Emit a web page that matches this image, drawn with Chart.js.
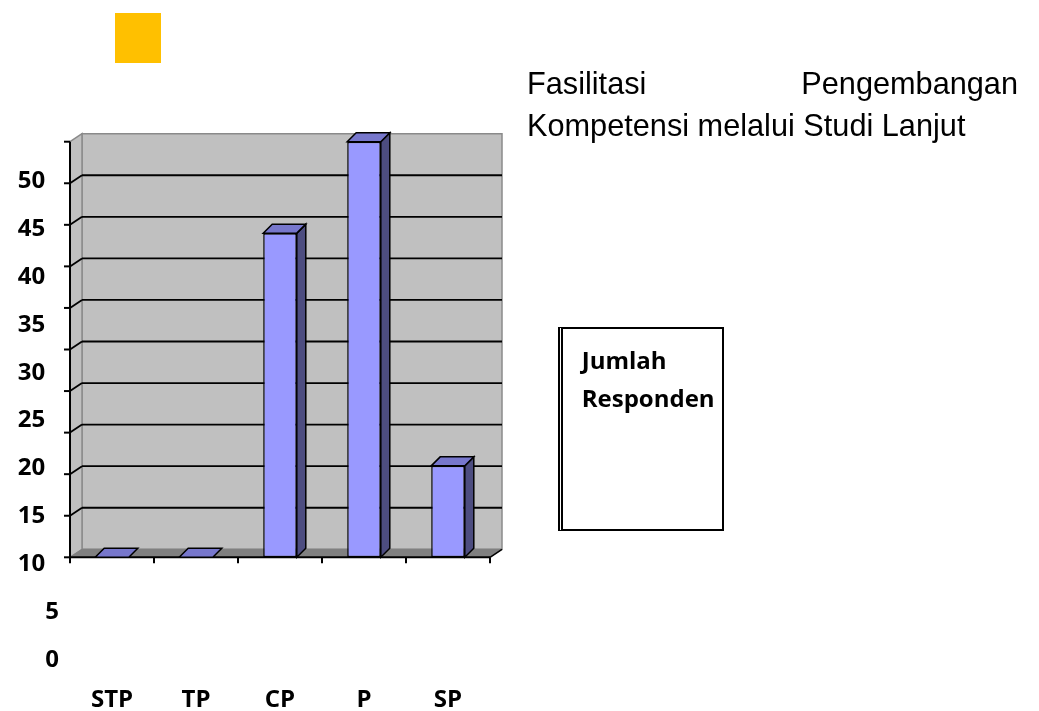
<!DOCTYPE html>
<html>
<head>
<meta charset="utf-8">
<script src="https://cdn.jsdelivr.net/npm/chart.js@4.4.0/dist/chart.umd.min.js"></script>
<style>
  html, body { margin: 0; padding: 0; background: #ffffff; }
  #wrap { position: relative; width: 1039px; height: 711px; overflow: hidden; }
  #c { position: absolute; left: 0; top: 0; }
  #title {
    position: absolute; left: 527px; top: 63.3px; width: 491px;
    font-family: 'Liberation Sans', Arial, sans-serif; font-size: 30.7px; line-height: 42px;
    text-align: justify; text-align-last: left; color: #000;
  }
  #legend {
    position: absolute; left: 558px; top: 327px; width: 166px; height: 204px;
    box-sizing: border-box; border: 2px solid #000; border-left: 5px double #000;
    padding: 12px 0 0 18.7px;
    font-family: 'Open Sans', sans-serif; font-weight: bold; font-size: 24px; line-height: 37.5px; color: #000;
  }
  #key { position: absolute; left: 115px; top: 13px; width: 46px; height: 50px; background: #FFC000; }
</style>
</head>
<body>
<div id="wrap">
  <canvas id="c" width="1039" height="711"></canvas>
  <div id="key"></div>
  <div id="title">Fasilitasi Pengembangan Kompetensi melalui Studi Lanjut</div>
  <div id="legend">Jumlah Responden</div>
</div>
<script>
// ---- data ----
const categories = ['STP', 'TP', 'CP', 'P', 'SP'];
const seriesLabel = 'Jumlah Responden';
const values = [0, 0, 39, 50, 11];
const yTickValues = [0, 5, 10, 15, 20, 25, 30, 35, 40, 45, 50];
const yAxisMax = 50;

// ---- layout (pixels) ----
const AREA = { left: 70, right: 490, top: 100, bottom: 662 };
const PLOT_ZERO_PX = 557.3, PLOT_TOP_PX = 141.7;      // front plane of value axis
const LABEL_ZERO_PX = 660.0, LABEL_PX_PER_UNIT = 9.576; // where the tick texts sit
const plotPxPerUnit = (PLOT_ZERO_PX - PLOT_TOP_PX) / yAxisMax;
const yMax = yAxisMax + (PLOT_TOP_PX - AREA.top) / plotPxPerUnit;
const yMin = -(AREA.bottom - PLOT_ZERO_PX) / plotPxPerUnit;
const ylMax = (LABEL_ZERO_PX - AREA.top) / LABEL_PX_PER_UNIT;
const ylMin = -(AREA.bottom - LABEL_ZERO_PX) / LABEL_PX_PER_UNIT;

const WALL_DX = 12, WALL_DY = -8;
const BAR_DX = 9, BAR_DY = -9;

function poly(ctx, pts, fill, stroke, lw) {
  ctx.beginPath();
  ctx.moveTo(pts[0][0], pts[0][1]);
  for (let i = 1; i < pts.length; i++) ctx.lineTo(pts[i][0], pts[i][1]);
  ctx.closePath();
  if (fill) { ctx.fillStyle = fill; ctx.fill(); }
  if (stroke) { ctx.strokeStyle = stroke; ctx.lineWidth = lw || 1; ctx.stroke(); }
}
function line(ctx, x1, y1, x2, y2, color, lw) {
  ctx.beginPath(); ctx.moveTo(x1, y1); ctx.lineTo(x2, y2);
  ctx.strokeStyle = color; ctx.lineWidth = lw; ctx.stroke();
}

const box3d = {
  id: 'box3d',
  beforeDatasetsDraw(chart) {
    const ctx = chart.ctx, ys = chart.scales.y, xs = chart.scales.x;
    const l = xs.left, r = xs.right;
    const y0 = ys.getPixelForValue(0), yt = ys.getPixelForValue(yAxisMax);
    const dx = WALL_DX, dy = WALL_DY;
    ctx.save();
    ctx.lineJoin = 'miter';
    // back wall
    poly(ctx, [[l + dx, yt + dy], [r + dx, yt + dy], [r + dx, y0 + dy], [l + dx, y0 + dy]], '#c0c0c0', '#8a8a8a', 1.5);
    // left wall
    poly(ctx, [[l, yt], [l + dx, yt + dy], [l + dx, y0 + dy], [l, y0]], '#c0c0c0', '#8a8a8a', 1.5);
    // floor
    poly(ctx, [[l, y0], [r, y0], [r + dx, y0 + dy], [l + dx, y0 + dy]], '#808080', '#808080', 1);
    // grid lines on back wall and left wall
    yTickValues.forEach(v => {
      if (v === 0 || v === yAxisMax) return;
      const py = ys.getPixelForValue(v);
      line(ctx, l + dx, py + dy, r + dx, py + dy, '#000', 1.8);
      line(ctx, l, py, l + dx, py + dy, '#000', 1.8);
    });
    // value axis line and ticks
    line(ctx, l, yt, l, y0, '#000', 2);
    yTickValues.forEach(v => {
      const py = ys.getPixelForValue(v);
      line(ctx, l - 6, py, l, py, '#000', 2);
    });
    // category axis line, ticks, right diagonal
    line(ctx, l, y0, r, y0, '#000', 2);
    line(ctx, r, y0, r + dx, y0 + dy, '#000', 1.5);
    const n = categories.length;
    for (let i = 0; i <= n; i++) {
      const px = l + i * (r - l) / n;
      line(ctx, px, y0, px, y0 + 6, '#000', 2);
    }
    ctx.restore();
  },
  afterDatasetsDraw(chart) {
    const ctx = chart.ctx;
    const meta = chart.getDatasetMeta(0);
    ctx.save();
    ctx.lineJoin = 'miter';
    meta.data.forEach(bar => {
      const p = bar.getProps(['x', 'y', 'base', 'width'], true);
      const x1 = p.x - p.width / 2, x2 = p.x + p.width / 2;
      const yT = Math.min(p.y, p.base), yB = Math.max(p.y, p.base);
      // side face
      if (yB - yT > 0.5) {
        poly(ctx, [[x2, yT], [x2 + BAR_DX, yT + BAR_DY], [x2 + BAR_DX, yB + BAR_DY], [x2, yB]], '#4d4d80', '#000', 1.5);
      }
      // top face
      poly(ctx, [[x1, yT], [x2, yT], [x2 + BAR_DX, yT + BAR_DY], [x1 + BAR_DX, yT + BAR_DY]], '#7777cc', '#000', 1.5);
    });
    ctx.restore();
  }
};

const labelFont = { family: "'Open Sans', sans-serif", weight: 'bold', size: 24 };

new Chart(document.getElementById('c'), {
  type: 'bar',
  data: {
    labels: categories,
    datasets: [{
      label: seriesLabel,
      data: values,
      yAxisID: 'y',
      backgroundColor: '#9999ff',
      borderColor: '#000000',
      borderWidth: 1.5,
      borderSkipped: false,
      categoryPercentage: 1.0,
      barPercentage: 0.4
    }]
  },
  options: {
    responsive: false,
    animation: false,
    devicePixelRatio: 1,
    layout: { padding: { left: 0, right: 1039 - AREA.right, top: AREA.top, bottom: 0 } },
    plugins: { legend: { display: false }, title: { display: false }, tooltip: { enabled: false } },
    scales: {
      x: {
        type: 'category',
        position: 'bottom',
        grid: { display: false, drawTicks: false },
        border: { display: false },
        ticks: { font: labelFont, color: '#000', padding: 23.6, maxRotation: 0 },
        afterFit(s) { s.height = 711 - AREA.bottom; }
      },
      yl: {
        type: 'linear',
        position: 'left',
        min: ylMin,
        max: ylMax,
        grid: { display: false, drawTicks: false },
        border: { display: false },
        afterBuildTicks(s) { s.ticks = yTickValues.map(v => ({ value: v })); },
        ticks: {
          font: labelFont, color: '#000', padding: 11,
          callback: v => (v >= 10 ? v + '\u2007' : String(v))
        },
        afterFit(s) { s.width = AREA.left; }
      },
      y: {
        type: 'linear',
        display: false,
        min: yMin,
        max: yMax
      }
    }
  },
  plugins: [box3d]
});
</script>
</body>
</html>
